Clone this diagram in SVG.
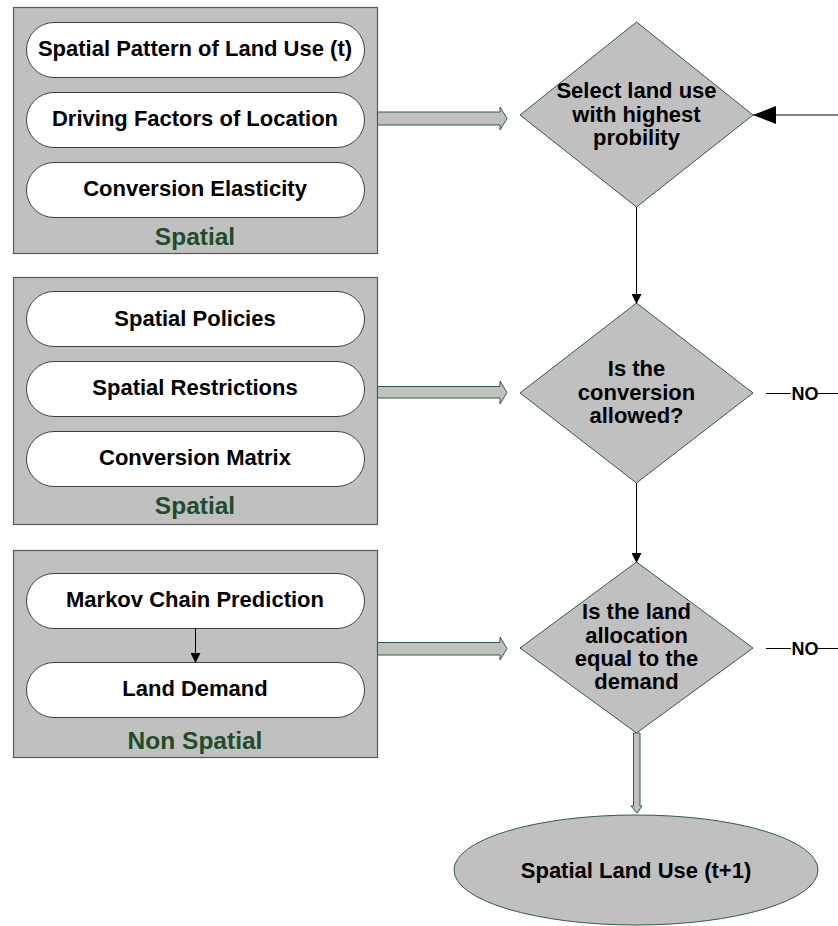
<svg xmlns="http://www.w3.org/2000/svg" width="838" height="926" viewBox="0 0 838 926">
<defs>
<style>
.grp{fill:#c0c0c0;stroke:#595959;stroke-width:1.2}
.pill{fill:#fff;stroke:#404040;stroke-width:1}
.t{font-family:"Liberation Sans",Arial,sans-serif;font-weight:bold;font-size:22px;fill:#000;text-anchor:middle}
.lbl{font-family:"Liberation Sans",Arial,sans-serif;font-weight:bold;font-size:24.5px;fill:#1e4d2b;text-anchor:middle}
.dia{fill:#c0c0c0;stroke:#2e5e3e;stroke-width:1}
.barrow{fill:#c0c0c0;stroke:#2e5e3e;stroke-width:1}
.ln{stroke:#000;stroke-width:1;fill:none}
.no{font-family:"Liberation Sans",Arial,sans-serif;font-weight:bold;font-size:18px;fill:#000;text-anchor:middle}
</style>
<marker id="ah" markerWidth="10" markerHeight="10" refX="9" refY="5" orient="auto" markerUnits="userSpaceOnUse">
<path d="M0,0 L10,5 L0,10 Z" fill="#000"/>
</marker>
<marker id="bigah" markerWidth="24" markerHeight="20" refX="23" refY="10" orient="auto" markerUnits="userSpaceOnUse">
<path d="M0,1 L23,10 L0,19 Z" fill="#000"/>
</marker>
</defs>

<g id="group1">
<rect class="grp" x="13.5" y="7.5" width="364" height="246"/>
<text class="lbl" x="195" y="245">Spatial</text>
</g>
<g id="pill-pattern"><rect class="pill" x="26.5" y="22.5" width="338" height="55" rx="27.5"/><text class="t" x="195" y="56">Spatial Pattern of Land Use (t)</text></g>
<g id="pill-driving"><rect class="pill" x="26.5" y="92.5" width="338" height="55" rx="27.5"/><text class="t" x="195" y="126">Driving Factors of Location</text></g>
<g id="pill-elasticity"><rect class="pill" x="26.5" y="162.5" width="338" height="55" rx="27.5"/><text class="t" x="195" y="196">Conversion Elasticity</text></g>

<g id="group2">
<rect class="grp" x="13.5" y="277.5" width="364" height="247"/>
<text class="lbl" x="195" y="514">Spatial</text>
</g>
<g id="pill-policies"><rect class="pill" x="26.5" y="291.5" width="338" height="55" rx="27.5"/><text class="t" x="195" y="326">Spatial Policies</text></g>
<g id="pill-restrictions"><rect class="pill" x="26.5" y="361.5" width="338" height="55" rx="27.5"/><text class="t" x="195" y="395">Spatial Restrictions</text></g>
<g id="pill-matrix"><rect class="pill" x="26.5" y="431.5" width="338" height="55" rx="27.5"/><text class="t" x="195" y="465">Conversion Matrix</text></g>

<g id="group3">
<rect class="grp" x="13.5" y="550.5" width="364" height="207"/>
<text class="lbl" x="195" y="749">Non Spatial</text>
</g>
<g id="pill-markov"><rect class="pill" x="26.5" y="573.5" width="338" height="55" rx="27.5"/><text class="t" x="195" y="607">Markov Chain Prediction</text></g>
<g id="pill-demand"><rect class="pill" x="26.5" y="662.5" width="338" height="55" rx="27.5"/><text class="t" x="195" y="696">Land Demand</text></g>

<g id="d-select">
<polygon class="dia" points="636.5,22 753,115 636.5,207 520,115"/>
<text class="t" x="636.5" y="98">Select land use</text>
<text class="t" x="636.5" y="122">with highest</text>
<text class="t" x="636.5" y="145">probility</text>
</g>
<g id="d-allowed">
<polygon class="dia" points="636.5,303 753,393 636.5,483 520,393"/>
<text class="t" x="636.5" y="376">Is the</text>
<text class="t" x="636.5" y="400">conversion</text>
<text class="t" x="636.5" y="423">allowed?</text>
</g>
<g id="d-equal">
<polygon class="dia" points="636.5,562 753,648 636.5,733 520,648"/>
<text class="t" x="636.5" y="619">Is the land</text>
<text class="t" x="636.5" y="643">allocation</text>
<text class="t" x="636.5" y="666">equal to the</text>
<text class="t" x="636.5" y="689">demand</text>
</g>
<g id="e-result">
<ellipse class="dia" cx="636" cy="870" rx="182" ry="55"/>
<text class="t" x="636" y="878">Spatial Land Use (t+1)</text>
</g>

<g id="connectors">
<polygon class="barrow" points="377.5,112 500,112 500,107 507,118.5 500,130 500,125 377.5,125"/>
<polygon class="barrow" points="377.5,386.5 500,386.5 500,381 507,392.5 500,404 500,398 377.5,398"/>
<polygon class="barrow" points="377.5,642.5 500,642.5 500,637 507,648.5 500,660 500,655 377.5,655"/>
<polygon class="barrow" points="633.5,733 640,733 640,806 642,806 637,813 631,806 633.5,806"/>
<line class="ln" x1="838" y1="115" x2="753" y2="115" marker-end="url(#bigah)"/>
<line class="ln" x1="636.5" y1="207" x2="636.5" y2="303" marker-end="url(#ah)"/>
<line class="ln" x1="636.5" y1="483" x2="636.5" y2="562" marker-end="url(#ah)"/>
<line class="ln" x1="195.5" y1="628" x2="195.5" y2="662" marker-end="url(#ah)"/>
<line class="ln" x1="766" y1="393.5" x2="791" y2="393.5"/>
<line class="ln" x1="818" y1="393.5" x2="838" y2="393.5"/>
<text class="no" x="805" y="399.5">NO</text>
<line class="ln" x1="766" y1="648.5" x2="791" y2="648.5"/>
<line class="ln" x1="818" y1="648.5" x2="838" y2="648.5"/>
<text class="no" x="805" y="654.5">NO</text>
</g>
</svg>
